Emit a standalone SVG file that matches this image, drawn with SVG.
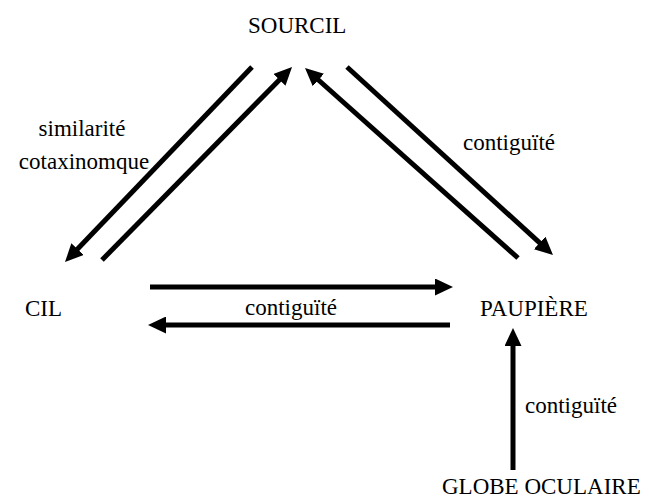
<svg xmlns="http://www.w3.org/2000/svg" width="649" height="499" viewBox="0 0 649 499">
  <style>
    .lbl { font-family: "Liberation Serif", "Noto Serif", Tinos, Times, "Times New Roman", FreeSerif, "Noto Serif CJK SC", serif; font-size: 23px; fill: #000; }
    .arrow { stroke: #000; stroke-width: 5; fill: none; stroke-linecap: butt; marker-end: url(#head); }
  </style>
  <defs>
    <marker id="head" markerUnits="userSpaceOnUse" markerWidth="18" markerHeight="17" refX="3" refY="8.5" orient="auto">
      <path d="M0,0 L18,8.5 L0,17 z" fill="#000"/>
    </marker>
  </defs>
  <rect width="649" height="499" fill="#fff"/>

  <g id="sourcil"><text class="lbl" x="248" y="33">SOURCIL</text></g>
  <g id="cil"><text class="lbl" x="25" y="316">CIL</text></g>
  <g id="paupiere"><text class="lbl" x="480" y="316">PAUPIÈRE</text></g>
  <g id="globe-oculaire"><text class="lbl" x="442" y="494">GLOBE OCULAIRE</text></g>

  <g id="connectors">
    <line class="arrow" x1="252" y1="67" x2="75.4" y2="251.2"/>
    <line class="arrow" x1="102" y1="260" x2="281.5" y2="77.7"/>
    <line class="arrow" x1="518" y1="258" x2="316.2" y2="78"/>
    <line class="arrow" x1="347" y1="67" x2="541.9" y2="244.9"/>
    <line class="arrow" x1="150" y1="287" x2="438" y2="287"/>
    <line class="arrow" x1="450" y1="325" x2="163" y2="325"/>
    <line class="arrow" x1="513" y1="470" x2="513" y2="343"/>
  </g>

  <g id="labels">
    <text class="lbl" x="82" y="136" text-anchor="middle">similarité</text>
    <text class="lbl" x="84" y="169" text-anchor="middle">cotaxinomque</text>
    <text class="lbl" x="463" y="150">contiguïté</text>
    <text class="lbl" x="245" y="315">contiguïté</text>
    <text class="lbl" x="525" y="413">contiguïté</text>
  </g>
</svg>
